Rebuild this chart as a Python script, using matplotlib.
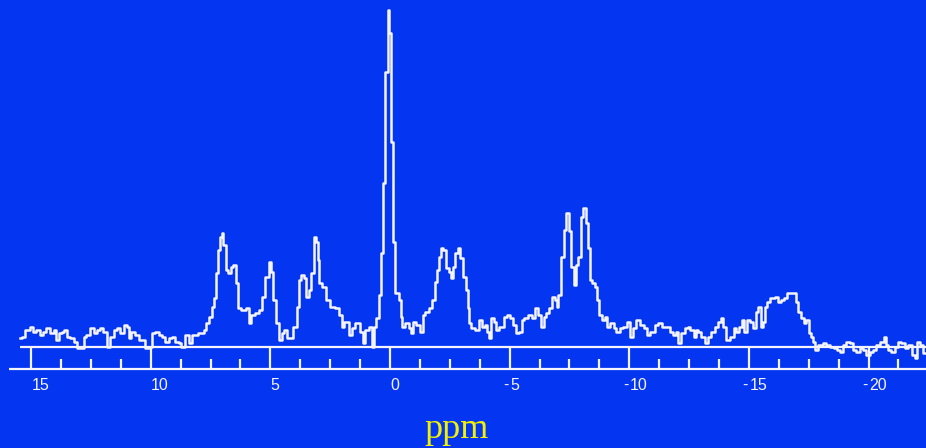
import numpy as np
import matplotlib.pyplot as plt

# spectrum: chemical shift (ppm) and intensity (arb. units)
ppm = [15.46, 15.34, 15.13, 14.96, 14.84, 14.71, 14.54, 14.50, 14.29, 14.12,
       14.00, 13.92, 13.79, 13.66, 13.58, 13.46, 13.29, 13.16, 13.04, 12.87,
       12.75, 12.62, 12.45, 12.33, 12.20, 12.04, 11.91, 11.78, 11.62, 11.49,
       11.37, 11.20, 11.07, 10.95, 10.87, 10.74, 10.57, 10.45, 10.32, 10.15,
       10.03, 9.90, 9.74, 9.61, 9.49, 9.32, 9.19, 9.07, 8.90, 8.78,
       8.65, 8.48, 8.36, 8.23, 8.07, 7.94, 7.81, 7.73, 7.61, 7.52,
       7.44, 7.40, 7.31, 7.23, 7.19, 7.06, 6.98, 6.94, 6.81, 6.73,
       6.60, 6.52, 6.39, 6.31, 6.14, 5.93, 5.85, 5.73, 5.56, 5.43,
       5.31, 5.14, 5.01, 4.93, 4.85, 4.72, 4.60, 4.47, 4.35, 4.26,
       4.10, 3.97, 3.84, 3.76, 3.68, 3.55, 3.47, 3.34, 3.26, 3.13,
       3.05, 3.01, 2.93, 2.72, 2.59, 2.42, 2.21, 2.09, 1.96, 1.88,
       1.76, 1.63, 1.55, 1.34, 1.17, 1.13, 0.96, 0.79, 0.71, 0.63,
       0.54, 0.42, 0.33, 0.25, 0.13, 0.08, 0.00, -0.08, -0.13, -0.29,
       -0.42, -0.50, -0.54, -0.71, -0.84, -0.92, -1.04, -1.17, -1.34, -1.38,
       -1.55, -1.67, -1.80, -1.92, -2.01, -2.09, -2.17, -2.30, -2.38, -2.51,
       -2.59, -2.67, -2.80, -2.88, -3.01, -3.09, -3.22, -3.26, -3.34, -3.47,
       -3.64, -3.76, -3.89, -4.01, -4.10, -4.18, -4.30, -4.39, -4.47, -4.68,
       -4.81, -4.93, -5.10, -5.22, -5.31, -5.43, -5.56, -5.68, -5.85, -5.98,
       -6.14, -6.27, -6.39, -6.48, -6.56, -6.69, -6.81, -6.94, -6.98, -7.10,
       -7.23, -7.31, -7.40, -7.52, -7.61, -7.73, -7.80, -7.94, -8.02, -8.11,
       -8.23, -8.32, -8.40, -8.48, -8.65, -8.69, -8.78, -8.90, -9.03, -9.11,
       -9.28, -9.40, -9.53, -9.69, -9.82, -9.95, -10.11, -10.24, -10.36, -10.53,
       -10.66, -10.78, -10.99, -11.16, -11.28, -11.49, -11.62, -11.78, -11.91, -11.99,
       -12.12, -12.24, -12.41, -12.49, -12.62, -12.75, -12.83, -12.95, -13.08, -13.25,
       -13.37, -13.50, -13.66, -13.79, -13.87, -14.00, -14.12, -14.29, -14.42, -14.54,
       -14.63, -14.75, -14.84, -14.96, -15.13, -15.25, -15.34, -15.42, -15.55, -15.63,
       -15.71, -15.80, -15.92, -16.00, -16.17, -16.26, -16.38, -16.51, -16.63, -16.80,
       -16.92, -17.01, -17.13, -17.26, -17.34, -17.47, -17.55, -17.63, -17.72, -17.84,
       -17.97, -18.18, -18.30, -18.47, -18.60, -18.72, -18.89, -19.01, -19.14, -19.31,
       -19.43, -19.56, -19.72, -19.85, -19.97, -20.14, -20.27, -20.39, -20.56, -20.69,
       -20.77, -20.89, -21.02, -21.19, -21.31, -21.44, -21.60, -21.73, -21.86, -21.98,
       -22.06, -22.23, -22.36]
intensity = [9, 10, 17, 20, 15, 17, 12, 15, 19, 14,
             17, 7, 14, 15, 17, 10, 9, 5, -1, -1,
             10, 12, 19, 14, 17, 19, 15, 0, 10, 17,
             19, 14, 22, 20, 9, 15, 12, 7, 7, -1,
             0, 14, 15, 12, 10, 5, 9, 10, 5, 4,
             0, 12, 4, 12, 12, 14, 14, 17, 24, 30,
             30, 40, 49, 74, 97, 110, 114, 102, 77, 74,
             80, 82, 64, 39, 37, 39, 24, 32, 34, 37,
             50, 70, 85, 75, 47, 24, 7, 14, 17, 9,
             9, 20, 40, 67, 72, 69, 50, 57, 74, 110,
             105, 87, 64, 60, 47, 40, 39, 32, 20, 25,
             25, 12, 19, 24, 15, 4, 17, 20, 0, 20,
             29, 52, 94, 164, 275, 337, 314, 205, 105, 54,
             47, 30, 20, 24, 19, 14, 25, 22, 15, 32,
             35, 39, 47, 65, 77, 90, 99, 97, 79, 75,
             69, 80, 94, 99, 89, 70, 57, 39, 24, 19,
             17, 27, 20, 22, 15, 9, 29, 25, 17, 20,
             30, 32, 29, 22, 14, 15, 27, 29, 32, 29,
             39, 32, 20, 30, 34, 39, 50, 47, 40, 52,
             90, 117, 134, 116, 80, 62, 82, 90, 130, 139,
             124, 99, 67, 64, 60, 47, 32, 27, 30, 20,
             24, 19, 15, 19, 20, 25, 10, 19, 27, 22,
             19, 12, 15, 22, 24, 20, 20, 15, 12, 15,
             4, 14, 19, 20, 17, 10, 17, 15, 10, 4,
             10, 15, 20, 25, 29, 20, 7, 10, 19, 15,
             20, 27, 15, 27, 25, 19, 35, 40, 20, 25,
             40, 45, 49, 49, 50, 45, 47, 49, 54, 54,
             54, 45, 35, 29, 24, 27, 14, 10, 5, -3,
             2, 4, 2, 0, -1, -3, -5, 2, 5, 4,
             -3, -5, -1, -3, -8, -5, -3, 2, 5, 10,
             2, -3, -5, 0, 5, 4, -1, 2, -8, -11,
             5, 2, -6]

major_ticks = [15, 10, 5, 0, -5, -10, -15, -20]
tick_labels = ['15', '10', '5', '0', '-5', '-10', '-15', '-20']
x_label = 'ppm'

bg = '#0436f2'
fg = '#f4f4ff'

fig = plt.figure(figsize=(9.26, 4.48), dpi=100)
fig.patch.set_facecolor(bg)
ax = fig.add_axes([0, 0, 1, 1])
ax.set_facecolor(bg)
ax.set_xlim(16.30, -22.40)
ax.set_ylim(-101, 347)
ax.axis('off')

# spectrum
ax.plot(ppm, intensity, color=fg, lw=1.8, drawstyle='steps-mid', zorder=3)

# scale: baseline, bottom rail, major and minor ticks (4 divisions per 5 ppm)
ax.hlines(0, 15.46, -22.40, color=fg, lw=1.6)
ax.hlines(-22, 15.92, -22.40, color=fg, lw=1.6)
ax.vlines(major_ticks, -22, 0, color=fg, lw=1.6)
minor_ticks = [m - k * 1.25 for m in major_ticks for k in (1, 2, 3)]
minor_ticks = [t for t in minor_ticks if t > -22.0]
ax.vlines(minor_ticks, -22, -12, color=fg, lw=1.6)

for t, lab in zip(major_ticks, tick_labels):
    digits = lab.lstrip('-')
    ax.text(t - 0.02, -38, digits, color=fg, fontsize=11.5,
            family='Liberation Sans', ha='left', va='center')
    if lab.startswith('-'):
        ax.text(t + 0.04, -38, '-', color=fg, fontsize=11.5,
                family='Liberation Sans', ha='right', va='center')

ax.text(-2.80, -91, x_label, color='#f2f200', fontsize=26,
        family='Liberation Serif', ha='center', va='baseline')

fig.savefig('out.png', dpi=100, facecolor=bg)
